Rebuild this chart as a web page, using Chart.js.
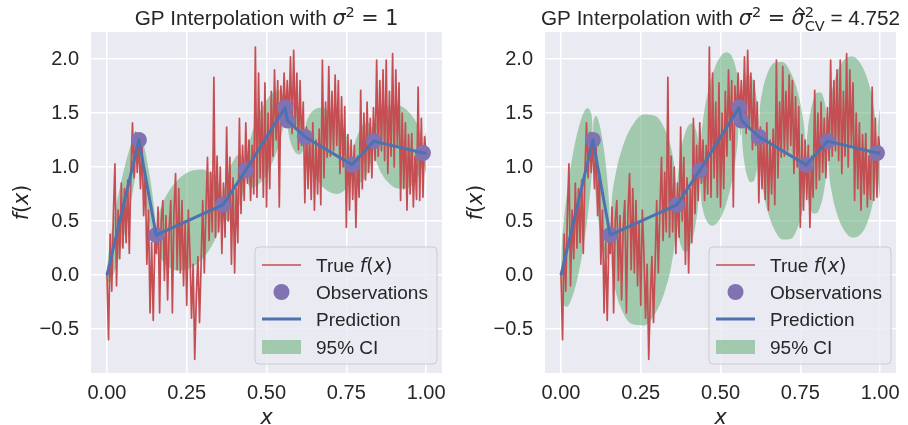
<!DOCTYPE html>
<html><head><meta charset="utf-8">
<script src="https://cdn.jsdelivr.net/npm/chart.js@4.4.1/dist/chart.umd.min.js"></script>
<style>
html,body{margin:0;padding:0;background:#fff;}
#wrap{position:relative;width:908px;height:425px;}
canvas{position:absolute;top:0;}
</style></head><body>
<div id="wrap"><canvas id="c1" width="454" height="425" style="left:0"></canvas><canvas id="c2" width="454" height="425" style="left:454px"></canvas></div>
<script>
// ---- data ----
const trueX = [
0,0.005,0.01,0.015,0.02,0.025,0.03,0.035,0.04,0.045,
0.05,0.055,0.06,0.065,0.07,0.075,0.08,0.085,0.09,0.095,
0.1,0.105,0.11,0.115,0.12,0.125,0.13,0.135,0.14,0.145,
0.15,0.155,0.16,0.165,0.17,0.175,0.18,0.185,0.19,0.195,
0.2,0.205,0.21,0.215,0.22,0.225,0.23,0.235,0.24,0.245,
0.25,0.255,0.26,0.265,0.27,0.275,0.28,0.285,0.29,0.295,
0.3,0.305,0.31,0.315,0.32,0.325,0.33,0.335,0.34,0.345,
0.35,0.355,0.36,0.365,0.37,0.375,0.38,0.385,0.39,0.395,
0.4,0.405,0.41,0.415,0.42,0.425,0.43,0.435,0.44,0.445,
0.45,0.455,0.46,0.465,0.47,0.475,0.48,0.485,0.49,0.495,
0.5,0.505,0.51,0.515,0.52,0.525,0.53,0.535,0.54,0.545,
0.55,0.555,0.56,0.565,0.57,0.575,0.58,0.585,0.59,0.595,
0.6,0.605,0.61,0.615,0.62,0.625,0.63,0.635,0.64,0.645,
0.65,0.655,0.66,0.665,0.67,0.675,0.68,0.685,0.69,0.695,
0.7,0.705,0.71,0.715,0.72,0.725,0.73,0.735,0.74,0.745,
0.75,0.755,0.76,0.765,0.77,0.775,0.78,0.785,0.79,0.795,
0.8,0.805,0.81,0.815,0.82,0.825,0.83,0.835,0.84,0.845,
0.85,0.855,0.86,0.865,0.87,0.875,0.88,0.885,0.89,0.895,
0.9,0.905,0.91,0.915,0.92,0.925,0.93,0.935,0.94,0.945,
0.95,0.955,0.96,0.965,0.97,0.975,0.98,0.985,0.99,0.995,
1.0];
const trueY = [
0.0,-0.60,0.38,-0.15,0.55,1.03,-0.10,0.60,0.15,0.85,
0.25,0.80,0.30,0.88,0.20,0.95,1.41,0.90,1.32,0.95,
1.25,0.80,1.20,0.55,0.95,0.10,0.60,-0.35,0.30,-0.42,
0.32,0.20,0.63,-0.35,0.50,0.69,-0.05,0.55,-0.23,0.45,
0.69,-0.35,0.60,0.94,0.05,0.80,0.02,0.69,-0.10,0.50,
-0.28,0.60,0.20,-0.40,0.10,-0.78,-0.20,0.17,-0.44,0.10,
0.69,0.02,0.60,1.09,0.32,0.95,0.40,1.83,0.35,1.10,
0.40,1.00,0.20,0.85,0.35,1.37,0.50,1.09,0.10,0.90,
0.02,0.80,0.30,1.45,0.57,1.20,0.69,1.41,0.85,1.25,
0.69,1.20,0.75,2.11,0.72,1.87,0.90,1.60,0.72,1.78,
0.63,1.50,0.80,1.70,1.10,1.90,1.25,1.80,0.63,1.75,
1.41,1.87,1.45,1.80,1.41,2.02,1.31,2.08,1.35,1.87,
1.16,1.80,1.20,1.60,0.67,1.37,0.80,1.30,0.70,1.41,
0.60,1.25,0.75,1.35,0.65,1.99,0.90,1.60,1.09,1.93,
1.10,1.70,1.15,1.85,1.20,1.80,0.94,1.65,1.00,1.56,
0.44,1.30,0.60,1.25,0.70,1.20,0.44,1.10,0.72,1.71,
0.80,1.50,0.88,1.60,0.95,1.45,0.90,1.55,1.06,1.99,
1.10,1.80,1.15,1.90,1.06,1.99,0.94,1.70,1.10,2.05,
1.00,1.90,1.20,1.78,0.69,1.50,0.80,1.41,0.60,1.30,
0.75,1.31,0.63,1.10,0.70,1.74,0.69,1.45,0.72,1.28,
1.13];
const obsX = [0.1,0.154,0.363,0.435,0.558,0.566,0.62,0.768,0.836,0.99];
const obsY = [1.25,0.37,0.65,0.97,1.55,1.43,1.28,1.02,1.24,1.13];
const predX = [0,0.1,0.154,0.363,0.435,0.558,0.566,0.62,0.768,0.836,0.99,1.0];
const predY = [0,1.25,0.37,0.65,0.97,1.55,1.43,1.28,1.02,1.24,1.13,1.13];
const ciX = [
0,0.002,0.008,0.018,0.032,0.05,0.068,0.082,0.092,0.098,
0.1,0.1011,0.1043,0.1097,0.1173,0.127,0.1367,0.1443,0.1497,0.1529,
0.154,0.1582,0.1707,0.1916,0.2209,0.2585,0.2961,0.3254,0.3463,0.3582,
0.363,0.3644,0.3688,0.376,0.386,0.399,0.412,0.422,0.4292,0.4336,
0.435,0.4375,0.4448,0.4571,0.4744,0.4965,0.5186,0.5359,0.5482,0.5555,
0.558,0.56,0.562,0.564,
0.566,0.5671,0.5703,0.5757,0.5833,0.593,0.6027,0.6103,0.6157,0.6189,
0.62,0.623,0.6318,0.6466,0.6674,0.694,0.7206,0.7414,0.7562,0.765,
0.768,0.7694,0.7734,0.7802,0.7898,0.802,0.8142,0.8238,0.8306,0.8346,
0.836,0.8391,0.8483,0.8637,0.8853,0.913,0.9407,0.9623,0.9777,0.9868,
0.99,0.9925,0.995,0.9975,1.0];
const ciMean = [
0,0.025,0.1,0.225,0.4,0.625,0.85,1.025,1.15,1.225,
1.25,1.232,1.18,1.092,0.968,0.81,0.652,0.528,0.44,0.388,
0.37,0.376,0.392,0.42,0.46,0.51,0.56,0.6,0.628,0.644,
0.65,0.656,0.676,0.708,0.752,0.81,0.868,0.912,0.944,0.964,
0.97,0.982,1.016,1.074,1.156,1.26,1.364,1.446,1.504,1.538,
1.55,1.52,1.49,1.46,
1.43,1.427,1.418,1.403,1.382,1.355,1.328,1.307,1.292,1.283,
1.28,1.275,1.259,1.233,1.197,1.15,1.103,1.067,1.041,1.025,
1.02,1.024,1.038,1.06,1.09,1.13,1.17,1.2,1.222,1.236,
1.24,1.238,1.231,1.22,1.205,1.185,1.165,1.15,1.139,1.132,
1.13,1.13,1.13,1.13,1.13];
const ciHalfUnit = [
0,0.087,0.168,0.238,0.289,0.31,0.289,0.238,0.168,0.087,
0,0.064,0.124,0.175,0.213,0.228,0.213,0.175,0.124,0.064,
0,0.125,0.243,0.344,0.418,0.448,0.418,0.344,0.243,0.125,
0,0.074,0.143,0.202,0.245,0.263,0.245,0.202,0.143,0.074,
0,0.096,0.187,0.264,0.321,0.344,0.321,0.264,0.187,0.096,
0,0.076,0.088,0.076,
0,0.064,0.124,0.175,0.213,0.228,0.213,0.175,0.124,0.064,
0,0.106,0.205,0.29,0.352,0.377,0.352,0.29,0.205,0.106,
0,0.072,0.139,0.197,0.239,0.256,0.239,0.197,0.139,0.072,
0,0.108,0.209,0.296,0.359,0.385,0.359,0.296,0.209,0.108,
0,0.098,0.139,0.17,0.196];
const ciHalfCV = [
0,0.189,0.367,0.519,0.631,0.676,0.631,0.519,0.367,0.189,
0,0.139,0.269,0.381,0.463,0.496,0.463,0.381,0.269,0.139,
0,0.274,0.531,0.75,0.912,0.977,0.912,0.75,0.531,0.274,
0,0.16,0.311,0.44,0.535,0.573,0.535,0.44,0.311,0.16,
0,0.21,0.407,0.575,0.699,0.749,0.699,0.575,0.407,0.21,
0,0.165,0.191,0.165,
0,0.139,0.269,0.381,0.463,0.496,0.463,0.381,0.269,0.139,
0,0.23,0.446,0.631,0.767,0.822,0.767,0.631,0.446,0.23,
0,0.156,0.302,0.428,0.52,0.557,0.52,0.428,0.302,0.156,
0,0.235,0.455,0.644,0.782,0.838,0.782,0.644,0.455,0.235,
0,0.214,0.303,0.37,0.427];
const xTicks = [0,0.25,0.5,0.75,1.0];
const yTicks = [-0.5,0,0.5,1.0,1.5,2.0];
const legendLabels = ['True f(x)','Observations','Prediction','95% CI'];

// ---- styling ----
const COL = {red:'#C44E52', blue:'#4C72B0', purple:'#8172B2', green:'rgba(85,168,104,0.5)', bg:'#EAEAF2', text:'#262626'};
const SANS = '"Liberation Sans", Arial, sans-serif';
const DVF = '"DejaVu Sans", sans-serif';
const T = '20.7px ' + SANS, M = '20.7px ' + DVF, MI = 'italic 20.7px ' + DVF, S = '14.5px ' + DVF;
const L = '19px ' + SANS, LM = '19px ' + DVF, LMI = 'italic 19px ' + DVF;

function pts(xs, ys){ return xs.map((x,i)=>({x:x, y:ys[i]})); }
function measureRuns(ctx, runs){
  let w = 0;
  for (const r of runs){
    ctx.font = r.f;
    let rw = ctx.measureText(r.t).width;
    if (r.sub){ ctx.font = r.sub.f; rw = Math.max(rw, ctx.measureText(r.sub.t).width); }
    r.w = rw; w += rw;
  }
  return w;
}
function drawRuns(ctx, runs, x, y){
  for (const r of runs){
    ctx.font = r.f; ctx.textAlign = 'left';
    ctx.fillText(r.t, x, y + (r.dy || 0));
    if (r.sub){ ctx.font = r.sub.f; ctx.fillText(r.sub.t, x, y + r.sub.dy); }
    if (r.hat){
      const hc = x + r.w/2 + 1.5;
      ctx.save(); ctx.strokeStyle = ctx.fillStyle; ctx.lineWidth = 1.5; ctx.lineJoin = 'miter';
      ctx.beginPath(); ctx.moveTo(hc - 4.5, y - 12.5); ctx.lineTo(hc, y - 17); ctx.lineTo(hc + 4.5, y - 12.5); ctx.stroke();
      ctx.restore();
    }
    x += r.w;
  }
}
function labelRuns(lbl){
  const i = lbl.indexOf('f(x)');
  if (i < 0) return [{t:lbl, f:L}];
  return [{t:lbl.slice(0,i), f:L},{t:'f', f:LMI},{t:'(', f:LM},{t:'x', f:LMI},{t:')', f:LM}];
}
const title1 = () => [{t:'GP Interpolation with ', f:T},{t:'\u03C3', f:MI},{t:'2', f:S, dy:-8.5},{t:' = 1', f:M}];
const title2 = () => [{t:'GP Interpolation with ', f:T},{t:'\u03C3', f:MI},{t:'2', f:S, dy:-8.5},{t:' = ', f:M},
  {t:'\u03C3', f:MI, hat:true},{t:'2', f:S, dy:-8.5, sub:{t:'CV', f:S, dy:6}},{t:' = 4.752', f:T}];

function makeChart(id, half, titleFn){
  const upper = ciX.map((x,i)=>({x:x, y:ciMean[i]+half[i]}));
  const lower = ciX.map((x,i)=>({x:x, y:ciMean[i]-half[i]}));
  const decor = {
    id:'decor',
    beforeDraw(chart){
      const {ctx, chartArea:a} = chart;
      ctx.save(); ctx.fillStyle = COL.bg; ctx.fillRect(a.left, a.top, a.right-a.left, a.bottom-a.top); ctx.restore();
    },
    afterDraw(chart){
      const {ctx, chartArea:a} = chart;
      const cx = (a.left + a.right)/2;
      ctx.save();
      ctx.fillStyle = COL.text; ctx.textBaseline = 'alphabetic';
      const tr = titleFn(); const tw = measureRuns(ctx, tr); drawRuns(ctx, tr, cx - tw/2, 25);
      const xr = [{t:'x', f:MI}]; const xw = measureRuns(ctx, xr); drawRuns(ctx, xr, cx - xw/2, 424);
      ctx.save(); ctx.translate(28, (a.top + a.bottom)/2); ctx.rotate(-Math.PI/2);
      const yr = [{t:'f', f:MI},{t:'(', f:M},{t:'x', f:MI},{t:')', f:M}];
      const yw = measureRuns(ctx, yr); drawRuns(ctx, yr, -yw/2, 0); ctx.restore();
      // legend
      const x0 = a.left + 164, y0 = a.top + 215, w = 182, h = 117, r = 4;
      ctx.beginPath();
      ctx.moveTo(x0+r, y0); ctx.lineTo(x0+w-r, y0); ctx.arcTo(x0+w, y0, x0+w, y0+r, r);
      ctx.lineTo(x0+w, y0+h-r); ctx.arcTo(x0+w, y0+h, x0+w-r, y0+h, r);
      ctx.lineTo(x0+r, y0+h); ctx.arcTo(x0, y0+h, x0, y0+h-r, r);
      ctx.lineTo(x0, y0+r); ctx.arcTo(x0, y0, x0+r, y0, r); ctx.closePath();
      ctx.fillStyle = 'rgba(234,234,242,0.8)'; ctx.fill();
      ctx.strokeStyle = '#CCCCCC'; ctx.lineWidth = 1; ctx.stroke();
      const hx0 = x0 + 7, hx1 = x0 + 46, tx = x0 + 61;
      const cy = [y0+18, y0+45, y0+72, y0+100], by = [y0+25, y0+52, y0+79, y0+107];
      ctx.strokeStyle = COL.red; ctx.lineWidth = 1.6; ctx.beginPath(); ctx.moveTo(hx0, cy[0]); ctx.lineTo(hx1, cy[0]); ctx.stroke();
      ctx.fillStyle = COL.purple; ctx.beginPath(); ctx.arc((hx0+hx1)/2, cy[1], 8, 0, Math.PI*2); ctx.fill();
      ctx.strokeStyle = COL.blue; ctx.lineWidth = 3; ctx.beginPath(); ctx.moveTo(hx0, cy[2]); ctx.lineTo(hx1, cy[2]); ctx.stroke();
      ctx.fillStyle = COL.green; ctx.fillRect(hx0, cy[3]-7, hx1-hx0, 14);
      ctx.fillStyle = COL.text;
      legendLabels.forEach((lb, i) => { const rr = labelRuns(lb); measureRuns(ctx, rr); drawRuns(ctx, rr, tx, by[i]); });
      ctx.restore();
    }
  };
  const tickFont = {family:'"Liberation Sans", Arial, sans-serif', size:20};
  return new Chart(document.getElementById(id), {
    type:'scatter',
    data:{datasets:[
      {label:'Prediction', data:pts(predX, predY), showLine:true, borderColor:COL.blue, borderWidth:3, pointRadius:0, fill:false, borderJoinStyle:'round'},
      {label:'Observations', data:pts(obsX, obsY), showLine:false, pointRadius:8, pointHoverRadius:8, pointBackgroundColor:COL.purple, pointBorderWidth:0, pointBorderColor:COL.purple},
      {label:'True f(x)', data:pts(trueX, trueY), showLine:true, borderColor:COL.red, borderWidth:1.7, pointRadius:0, fill:false, borderJoinStyle:'round'},
      {label:'95% CI', data:upper, showLine:true, borderWidth:0, borderColor:'rgba(0,0,0,0)', pointRadius:0, fill:'+1', backgroundColor:COL.green, cubicInterpolationMode:'monotone'},
      {label:'ci-lower', data:lower, showLine:true, borderWidth:0, borderColor:'rgba(0,0,0,0)', pointRadius:0, fill:false, cubicInterpolationMode:'monotone'}
    ]},
    options:{
      responsive:false, animation:false, devicePixelRatio:1,
      layout:{padding:{top:32, right:9, left:0, bottom:0}},
      plugins:{legend:{display:false}, title:{display:false}, tooltip:{enabled:false}},
      scales:{
        x:{type:'linear', bounds:'data', min:-0.05, max:1.05,
           afterBuildTicks(s){ s.ticks = xTicks.map(v=>({value:v})); },
           afterFit(s){ s.height = 52; },
           ticks:{callback:v=>Number(v).toFixed(2), font:tickFont, color:COL.text, padding:8, maxRotation:0, autoSkip:false},
           grid:{color:'#ffffff', lineWidth:1.5, drawTicks:false}, border:{display:false}},
        y:{type:'linear', bounds:'data', min:-0.907, max:2.25,
           afterBuildTicks(s){ s.ticks = yTicks.map(v=>({value:v})); },
           afterFit(s){ s.width = 91; },
           ticks:{callback:v=>(v<0?'\u2212':'')+Math.abs(Number(v)).toFixed(1), font:tickFont, color:COL.text, padding:12, autoSkip:false},
           grid:{color:'#ffffff', lineWidth:1.5, drawTicks:false}, border:{display:false}}
      }
    },
    plugins:[decor]
  });
}
makeChart('c1', ciHalfUnit, title1);
makeChart('c2', ciHalfCV, title2);
</script>
</body></html>
